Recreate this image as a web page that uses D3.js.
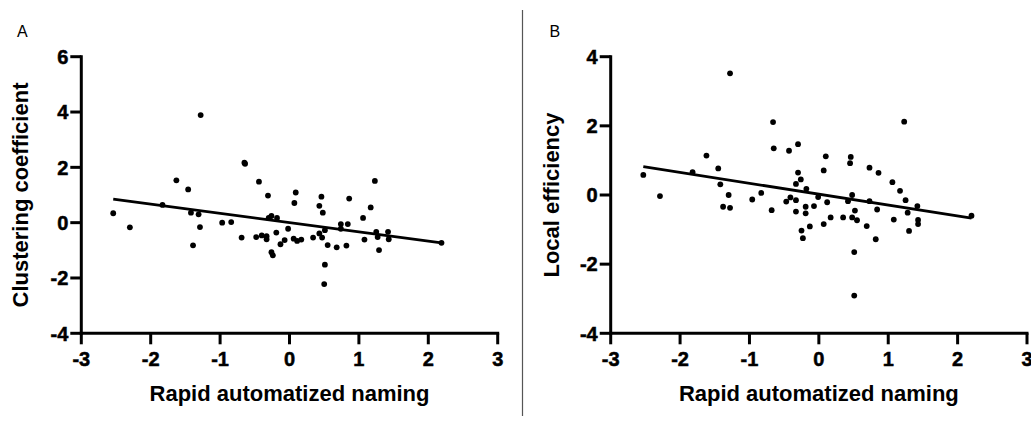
<!DOCTYPE html>
<html>
<head>
<meta charset="utf-8">
<script src="https://cdn.jsdelivr.net/npm/d3@7"></script>
<style>
  html, body { margin: 0; padding: 0; background: #fff; }
  svg { display: block; font-family: "Liberation Sans", Arial, sans-serif; }
</style>
</head>
<body>
<svg id="chart" width="1031" height="427"></svg>
<script>
// Rapid automatized naming scores (x) against network measures (y)
const xTicks = [-3, -2, -1, 0, 1, 2, 3];
const yTicksA = [-4, -2, 0, 2, 4, 6];
const yTicksB = [-4, -2, 0, 2, 4];

const ranA = [-2.54,-2.30,-1.83,-1.63,-1.46,-1.42,-1.39,-1.31,-1.28,-1.29,
  -0.97,-0.84,-0.69,-0.65,-0.64,-0.48,-0.44,-0.40,-0.33,-0.33,
  -0.31,-0.30,-0.26,-0.26,-0.24,-0.19,-0.18,-0.13,-0.07,-0.02,
  0.06,0.07,0.09,0.11,0.17,0.34,0.43,0.43,0.46,0.48,
  0.47,0.51,0.51,0.50,0.55,0.68,0.74,0.74,0.82,0.84,
  0.86,1.06,1.08,1.17,1.23,1.25,1.27,1.29,1.42,1.43,2.19];
const clusteringCoef = [0.34,-0.17,0.64,1.53,1.20,0.36,-0.82,0.30,3.89,-0.16,
  0.00,0.02,-0.54,2.17,2.13,-0.52,1.48,-0.46,-0.49,-0.60,
  0.98,0.17,0.24,-1.07,-1.18,-0.36,0.17,-0.78,-0.63,-0.22,
  -0.58,0.71,1.09,-0.66,-0.61,-0.54,0.61,-0.39,0.94,0.36,
  -0.54,-0.27,-1.52,-2.22,-0.81,-0.89,-0.05,-0.22,-0.83,-0.05,
  0.87,0.17,-0.61,0.55,1.51,-0.33,-0.52,-0.99,-0.33,-0.60,-0.73];
const fitAx = [-2.54, 2.19];
const fitAy = [0.85, -0.73];

const ranB = [-2.53,-2.29,-1.82,-1.62,-1.45,-1.42,-1.38,-1.30,-1.28,-1.28,
  -0.96,-0.83,-0.68,-0.66,-0.65,-0.47,-0.43,-0.41,-0.33,-0.33,
  -0.33,-0.30,-0.30,-0.26,-0.25,-0.23,-0.19,-0.19,-0.18,-0.13,
  -0.07,-0.01,0.07,0.07,0.10,0.12,0.17,0.35,0.42,0.45,
  0.46,0.48,0.48,0.52,0.51,0.51,0.55,0.69,0.73,0.73,
  0.82,0.84,0.86,1.06,1.08,1.17,1.23,1.25,1.28,1.30,
  1.42,1.43,1.43,2.20];
const localEff = [0.58,-0.03,0.66,1.14,0.77,0.31,-0.34,0.00,3.52,-0.37,
  -0.13,0.06,-0.44,2.11,1.35,-0.19,1.28,-0.07,-0.48,-0.15,
  0.32,1.47,0.65,0.45,-1.03,-1.25,-0.34,-0.53,0.18,-0.91,
  -0.32,-0.06,0.71,-0.84,1.12,-0.21,-0.65,-0.65,-0.18,0.92,
  1.10,0.00,-0.65,-0.45,-1.65,-2.91,-0.73,-0.90,0.79,-0.18,
  -1.28,-0.42,0.64,0.37,-0.71,0.12,2.12,-0.15,-0.51,-1.04,
  -0.32,-0.72,-0.84,-0.60];
const fitBx = [-2.53, 2.20];
const fitBy = [0.82, -0.67];

const FONT = '"Liberation Sans", Arial, sans-serif';
const TICK = 11;
const AXIS_W = 3;
const svg = d3.select("#chart");

// separator between the two panels
svg.append("line")
  .attr("x1", 522.5).attr("x2", 522.5)
  .attr("y1", 10).attr("y2", 416)
  .attr("stroke", "#555").attr("stroke-width", 1.2);

function tickLabel(sel) {
  sel.attr("font-family", FONT).attr("font-size", 20).attr("font-weight", "bold")
    .attr("fill", "#000").attr("stroke", "#000").attr("stroke-width", 0.5)
    .text(d => String(d));
}

// bottom axis: baseline, ticks and bold labels placed by the x scale
function bottomAxis(g, x, y0, values) {
  const ax = g.append("g").attr("class", "x-axis");
  const [r0, r1] = x.range();
  ax.append("line").attr("x1", r0).attr("x2", r1).attr("y1", y0).attr("y2", y0)
    .attr("stroke", "#000").attr("stroke-width", AXIS_W).attr("stroke-linecap", "square");
  const t = ax.selectAll("g.xt").data(values).join("g")
    .attr("class", "xt").attr("transform", d => `translate(${x(d)},${y0})`);
  t.append("line").attr("y2", TICK).attr("stroke", "#000").attr("stroke-width", AXIS_W);
  t.append("text").attr("y", 33).attr("text-anchor", "middle").call(tickLabel);
}

// left axis: vertical line, ticks and bold labels placed by the y scale
function leftAxis(g, y, x0, values) {
  const ax = g.append("g").attr("class", "y-axis");
  const [r0, r1] = y.range();
  ax.append("line").attr("x1", x0).attr("x2", x0).attr("y1", r0).attr("y2", r1)
    .attr("stroke", "#000").attr("stroke-width", AXIS_W).attr("stroke-linecap", "square");
  const t = ax.selectAll("g.yt").data(values).join("g")
    .attr("class", "yt").attr("transform", d => `translate(${x0},${y(d)})`);
  t.append("line").attr("x2", -TICK).attr("stroke", "#000").attr("stroke-width", AXIS_W);
  t.append("text").attr("x", -TICK - 2).attr("dy", "0.36em").attr("text-anchor", "end")
    .call(tickLabel);
}

function panel(opts) {
  const g = svg.append("g");
  const x = d3.scaleLinear().domain([-3, 3]).range([opts.x0, opts.x1]);
  const y = d3.scaleLinear().domain(opts.yDomain).range([333.3, 56.7]);

  bottomAxis(g, x, y.range()[0], xTicks);
  leftAxis(g, y, opts.x0, opts.yTicks);

  // regression line
  const fit = opts.fitX.map((v, i) => [v, opts.fitY[i]]);
  g.append("path")
    .datum(fit)
    .attr("d", d3.line().x(d => x(d[0])).y(d => y(d[1])))
    .attr("fill", "none").attr("stroke", "#000").attr("stroke-width", 2.8);

  // data points
  const pts = opts.xs.map((v, i) => [v, opts.ys[i]]);
  g.selectAll("circle.pt").data(pts).join("circle")
    .attr("class", "pt")
    .attr("cx", d => x(d[0])).attr("cy", d => y(d[1]))
    .attr("r", 2.9).attr("fill", "#000");

  // axis titles
  g.append("text")
    .attr("x", (opts.x0 + opts.x1) / 2).attr("y", 401)
    .attr("text-anchor", "middle")
    .attr("font-family", FONT).attr("font-weight", "bold").attr("font-size", 22)
    .text("Rapid automatized naming");

  g.append("text")
    .attr("transform", `translate(${opts.yTitleX},195) rotate(-90)`)
    .attr("text-anchor", "middle")
    .attr("font-family", FONT).attr("font-weight", "bold").attr("font-size", 22)
    .text(opts.yTitle);

  // panel letter
  g.append("text")
    .attr("x", opts.letterX).attr("y", 36.5)
    .attr("font-family", FONT).attr("font-size", 16)
    .text(opts.letter);
}

panel({
  x0: 81.3, x1: 497.7, yDomain: [-4, 6], yTicks: yTicksA,
  xs: ranA, ys: clusteringCoef, fitX: fitAx, fitY: fitAy,
  yTitle: "Clustering coefficient", yTitleX: 28, letter: "A", letterX: 17
});

panel({
  x0: 610.7, x1: 1027, yDomain: [-4, 4], yTicks: yTicksB,
  xs: ranB, ys: localEff, fitX: fitBx, fitY: fitBy,
  yTitle: "Local efficiency", yTitleX: 559, letter: "B", letterX: 549.5
});
</script>
</body>
</html>
